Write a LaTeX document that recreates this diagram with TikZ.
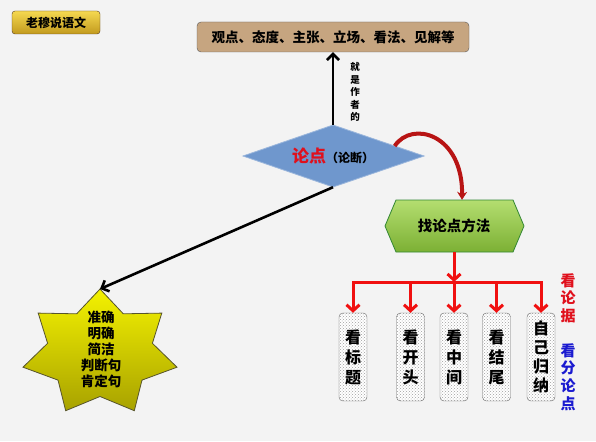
\documentclass[tikz,border=0pt]{standalone}
\usepackage{fontspec}
\setmainfont{Noto Sans CJK SC}
\usetikzlibrary{arrows.meta,patterns,calc}
\definecolor{bgc}{HTML}{F3F3F3}
\definecolor{tan}{HTML}{C6A580}
\definecolor{diablue}{HTML}{6F97CD}
\definecolor{arrred}{HTML}{F01010}
\definecolor{curvred}{HTML}{B81414}
\definecolor{lblred}{HTML}{E0101C}
\definecolor{lblblue}{HTML}{1A1AD0}
\definecolor{goldtop}{HTML}{F5D850}
\definecolor{goldbot}{HTML}{C29A1E}
\definecolor{greentop}{HTML}{B4DE70}
\definecolor{greenbot}{HTML}{7CB034}
\definecolor{startop}{HTML}{F4F200}
\definecolor{starbot}{HTML}{A8A200}
\begin{document}
\begin{tikzpicture}[x=1pt,y=-1pt,
  txt/.style={font=\bfseries\fontsize{#1}{#1}\selectfont, inner sep=0pt, align=center},
  blkarrow/.style={draw=black, line width=2.6pt, -{Straight Barb[length=6pt,width=12pt]}},
  redline/.style={draw=arrred, line width=3pt},
  redarrow/.style={draw=arrred, line width=3pt, -{Straight Barb[length=6pt,width=13pt]}},
  pbox/.style={draw=gray!80!black, rounded corners=4pt, preaction={fill=white},
    pattern=crosshatch dots, pattern color=gray!75, minimum width=28pt, minimum height=88pt,
    inner sep=0pt, align=center, font=\bfseries\fontsize{16}{20}\selectfont}
]
\useasboundingbox (0,0) rectangle (596,441);
\fill[bgc] (0,0) rectangle (596,441);

% title
\node[draw=black!55!brown, rounded corners=3pt, top color=goldtop, bottom color=goldbot,
  minimum width=88pt, minimum height=23pt, txt=12] (title) at (56,22.5) {老穆说语文};

% top box
\node[draw=gray!70!black, fill=tan, rounded corners=4pt, minimum width=272pt, minimum height=30pt,
  txt=13.5] (top) at (333,37) {观点、态度、主张、立场、看法、见解等};

% diamond
\draw[fill=diablue, draw=diablue!70!white, line width=0.8pt] (243,156) -- (333,125) -- (424,156) -- (333,187) -- cycle;
\node[minimum width=181pt, minimum height=62pt, inner sep=0pt] (dia) at (333,156)
  {\textcolor{lblred}{\bfseries\fontsize{17}{17}\selectfont 论点}\bfseries\fontsize{12}{12}\selectfont （论断）};

% label on vertical arrow
\node[inner sep=0pt, align=center, font=\bfseries\fontsize{9.5}{12.5}\selectfont] (zs) at (355,92) {就\\是\\作\\者\\的};

\draw[blkarrow] (dia.north) -- (top.south);

% hexagon
\draw[draw=black!45!green!60!gray, line width=0.8pt, top color=greentop, bottom color=greenbot]
  (385,226) -- (396,200) -- (513,200) -- (524,226) -- (513,252) -- (396,252) -- cycle;
\node[minimum width=139pt, minimum height=52pt, inner sep=0pt, txt=14.5] (hex) at (454,226) {找论点方法};

% curved arrow
\coordinate (cs) at ($(dia.north)!0.68!(dia.east)$);
\coordinate (ce) at ($(hex.north)+(8,0)$);
\draw[draw=curvred, line width=4pt, -{Stealth[length=8pt,width=10pt]}]
  (cs) .. controls (412,120) and (463,134) .. (ce);

% star
\draw[draw=black!50!olive, line width=0.8pt, top color=startop, bottom color=starbot]
  (100,289) -- (76.7,313.8) -- (38.2,313.1) -- (47.6,343.3) -- (23.0,367.2) -- (58.0,380.1)
  -- (65.7,410.7) -- (100,396.5) -- (134.3,410.7) -- (142.0,380.1) -- (177.0,367.2)
  -- (152.4,343.3) -- (161.8,313.1) -- (123.3,313.8) -- cycle;
\coordinate (startip) at (100,289);
\node[inner sep=0pt, align=center, font=\bfseries\fontsize{13.5}{16}\selectfont] (star) at (101,349) {准确\\明确\\简洁\\判断句\\肯定句};

\draw[blkarrow] (dia.south) -- (startip);

% boxes
\node[pbox] (b1) at (353,357) {看\\标\\题};
\node[pbox] (b2) at (410.5,357) {看\\开\\头};
\node[pbox] (b3) at (454,357) {看\\中\\间};
\node[pbox] (b4) at (496.5,357) {看\\结\\尾};
\node[pbox, font=\bfseries\fontsize{16}{19}\selectfont] (b5) at (541,357) {自\\己\\归\\纳};

% red connectors
\coordinate (bar) at (0,282);
\draw[redarrow] (hex.south) -- (hex.south |- bar);
\draw[redline, line cap=rect] (b1.north |- bar) -- (b5.north |- bar);
\foreach \b in {b1,b2,b3,b4,b5} \draw[redarrow] (\b.north |- bar) -- (\b.north);

% side labels
\node[inner sep=0pt, align=center, font=\bfseries\fontsize{15}{17.5}\selectfont, text=lblred] (ll) at (568,298) {看\\论\\据};
\node[inner sep=0pt, align=center, font=\bfseries\fontsize{15}{17.7}\selectfont, text=lblblue] (fl) at (568,377) {看\\分\\论\\点};
\end{tikzpicture}
\end{document}
